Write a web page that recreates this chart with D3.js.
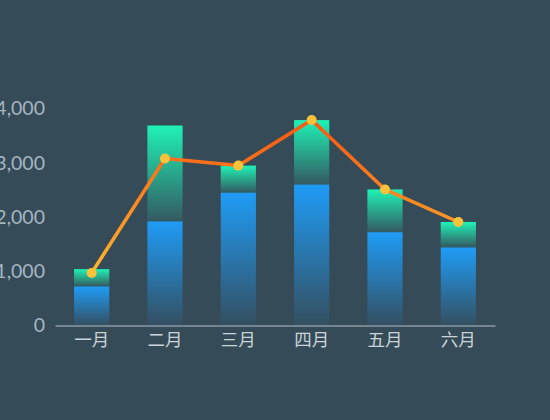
<!DOCTYPE html>
<html>
<head>
<meta charset="utf-8">
<script src="https://cdn.jsdelivr.net/npm/d3@7"></script>
<style>
  html, body { margin: 0; padding: 0; background: #354b58; }
  svg { display: block; }
  text { font-family: "Noto Sans", "Noto Sans CJK SC", sans-serif; }
</style>
</head>
<body>
<div id="chart"></div>
<script>
// chart data
const months = ["一月", "二月", "三月", "四月", "五月", "六月"];
const baseValues = [720, 1920, 2450, 2600, 1720, 1440];
const topValues = [320, 1770, 500, 1190, 790, 470];
const lineValues = [970, 3080, 2950, 3790, 2510, 1910];
const yTicks = [0, 1000, 2000, 3000, 4000];

const w = 550;
const h = 420;
const left = 55, right = 495;
const zeroY = 325.5, topY = 108.7;

const svg = d3.select("#chart").append("svg")
    .attr("width", w).attr("height", h);

svg.append("rect").attr("width", w).attr("height", h).attr("fill", "#354b58");

const x = d3.scaleBand().domain(months).range([left, right])
    .paddingInner(0.52).paddingOuter(0.26);
const y = d3.scaleLinear().domain([0, 4000]).range([zeroY, topY]);

// gradients
const defs = svg.append("defs");
function vgrad(id, c1, o1, c2, o2) {
  const g = defs.append("linearGradient").attr("id", id)
      .attr("x1", 0).attr("y1", 0).attr("x2", 0).attr("y2", 1);
  g.append("stop").attr("offset", "0%").attr("stop-color", c1).attr("stop-opacity", o1);
  g.append("stop").attr("offset", "100%").attr("stop-color", c2).attr("stop-opacity", o2);
}
vgrad("blueGrad", "#1f9cf6", 1, "#1f9cf6", 0.05);
vgrad("greenGrad", "#1ff2b6", 1, "#1ff2b6", 0.08);

const lg = defs.append("linearGradient").attr("id", "lineGrad")
    .attr("gradientUnits", "userSpaceOnUse")
    .attr("x1", 0).attr("x2", 0)
    .attr("y1", y(3800)).attr("y2", y(950));
lg.append("stop").attr("offset", "0%").attr("stop-color", "#ff5410");
lg.append("stop").attr("offset", "100%").attr("stop-color", "#ffb82e");

// y axis
const yAxis = svg.append("g")
    .attr("transform", "translate(" + left + ",0)")
    .call(d3.axisLeft(y).tickValues(yTicks).tickFormat(d3.format(",")).tickSize(0).tickPadding(10));
yAxis.select(".domain").remove();
yAxis.selectAll("text").attr("fill", "#a6b6c1")
    .style("font-family", "Lato, 'Noto Sans', sans-serif")
    .style("font-size", "19.5px");

// x axis
const xAxis = svg.append("g")
    .attr("transform", "translate(0," + zeroY + ")")
    .call(d3.axisBottom(x).tickSize(0).tickPadding(8));
xAxis.select(".domain").attr("stroke", "#b4c1ca").attr("stroke-width", 1);
xAxis.selectAll("text").attr("fill", "#c9d3da").style("font-size", "17.5px");

// bars
const bars = svg.append("g");
bars.selectAll("rect.base")
    .data(months).enter().append("rect")
    .attr("class", "base")
    .attr("x", d => x(d))
    .attr("width", x.bandwidth())
    .attr("y", (d, i) => y(baseValues[i]))
    .attr("height", (d, i) => y(0) - y(baseValues[i]))
    .attr("fill", "url(#blueGrad)");

bars.selectAll("rect.top")
    .data(months).enter().append("rect")
    .attr("class", "top")
    .attr("x", d => x(d))
    .attr("width", x.bandwidth())
    .attr("y", (d, i) => y(baseValues[i] + topValues[i]))
    .attr("height", (d, i) => y(baseValues[i]) - y(baseValues[i] + topValues[i]))
    .attr("fill", "url(#greenGrad)");

// line
const line = d3.line()
    .x((d, i) => x(months[i]) + x.bandwidth() / 2)
    .y(d => y(d));

svg.append("path")
    .datum(lineValues)
    .attr("d", line)
    .attr("fill", "none")
    .attr("stroke", "url(#lineGrad)")
    .attr("stroke-width", 3.5)
    .attr("stroke-linejoin", "round");

svg.selectAll("circle")
    .data(lineValues).enter().append("circle")
    .attr("cx", (d, i) => x(months[i]) + x.bandwidth() / 2)
    .attr("cy", d => y(d))
    .attr("r", 5)
    .attr("fill", "#fdc23a");
</script>
</body>
</html>
